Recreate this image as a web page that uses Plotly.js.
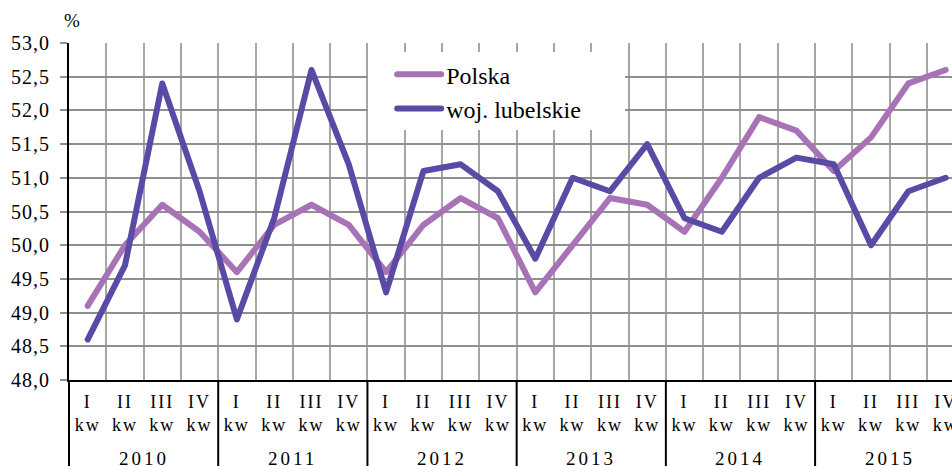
<!DOCTYPE html>
<html>
<head>
<meta charset="utf-8">
<script src="https://cdn.plot.ly/plotly-3.0.1.min.js"></script>
<style>
  html, body { margin: 0; padding: 0; overflow: hidden; background: #fff; }
  #chart { width: 952px; height: 466px; }
  .xtick text { letter-spacing: 2px; }
  .annotation-text { letter-spacing: 3px; }
  .ytick text { letter-spacing: 1px; }
  .scatterlayer path.js-line, .legend path.js-line { stroke-linecap: round; stroke-linejoin: round; }
</style>
</head>
<body>
<div id="chart"></div>
<script>
const years = ['2010', '2011', '2012', '2013', '2014', '2015'];
const quarters = ['I', 'II', 'III', 'IV'];
const yTicks = [48.0, 48.5, 49.0, 49.5, 50.0, 50.5, 51.0, 51.5, 52.0, 52.5, 53.0];

const polska = [49.1, 50.0, 50.6, 50.2,  49.6, 50.3, 50.6, 50.3,  49.6, 50.3, 50.7, 50.4,
                49.3, 50.0, 50.7, 50.6,  50.2, 51.0, 51.9, 51.7,  51.1, 51.6, 52.4, 52.6];
const lubelskie = [48.6, 49.7, 52.4, 50.8,  48.9, 50.4, 52.6, 51.2,  49.3, 51.1, 51.2, 50.8,
                   49.8, 51.0, 50.8, 51.5,  50.4, 50.2, 51.0, 51.3,  51.2, 50.0, 50.8, 51.0];

const cats = [];
const catText = [];
years.forEach(y => quarters.forEach(q => { cats.push(y + ' ' + q); catText.push(q + '<br>kw'); }));

const serif = 'Liberation Serif';

const traces = [
  { x: cats, y: polska, name: 'Polska', type: 'scatter', mode: 'lines',
    line: { color: '#A873B6', width: 6 } },
  { x: cats, y: lubelskie, name: 'woj. lubelskie', type: 'scatter', mode: 'lines',
    line: { color: '#5A4AA6', width: 6 } }
];

const shapes = [];
const annotations = [];
// white legend box covering the grid (no data passes through this area)
shapes.push({ type: 'rect', xref: 'paper', yref: 'paper', x0: 0.3386, x1: 0.6297, y0: 0.742, y1: 0.973,
  layer: 'above', fillcolor: '#fff', line: { width: 0 } });
// left edge extension below the axis
shapes.push({ type: 'line', xref: 'paper', yref: 'paper', x0: 0, x1: 0, y0: 0, y1: -0.3,
  line: { color: '#000', width: 2 } });
years.forEach((y, i) => {
  if (i > 0) {
    const b = i * quarters.length - 0.5;
    shapes.push({ type: 'line', xref: 'x', yref: 'paper', x0: b, x1: b, y0: 0, y1: -0.3,
      line: { color: '#000', width: 2 } });
  }
  annotations.push({ text: y, xref: 'x', yref: 'paper',
    x: i * quarters.length + (quarters.length - 1) / 2, y: 0,
    yanchor: 'middle', xanchor: 'center', yshift: -78, showarrow: false,
    font: { family: serif, size: 19, color: '#000' } });
});
annotations.push({ text: '%', xref: 'paper', yref: 'paper', x: 0.005, y: 1, xanchor: 'center',
  yanchor: 'middle', yshift: 23, showarrow: false, font: { family: serif, size: 19, color: '#000' } });

const layout = {
  width: 952, height: 466,
  margin: { l: 69, r: 0, t: 43, b: 86, pad: 0 },
  paper_bgcolor: '#fff', plot_bgcolor: '#fff',
  separators: ', ',
  showlegend: true,
  legend: { x: 0.366, y: 0.973, xanchor: 'left', yanchor: 'top', bgcolor: 'rgba(0,0,0,0)',
    borderwidth: 0, itemwidth: 44, font: { family: serif, size: 24, color: '#000' } },
  xaxis: {
    type: 'category', range: [-0.5, 23.17], tickson: 'boundaries',
    tickmode: 'array', tickvals: cats, ticktext: catText,
    showgrid: true, gridcolor: '#a6a6a6', gridwidth: 2,
    showline: true, linecolor: '#000', linewidth: 2, ticks: '', ticklabelstandoff: 4,
    tickfont: { family: serif, size: 18, color: '#000' }, zeroline: false
  },
  yaxis: {
    range: [48, 53], tickmode: 'array', tickvals: yTicks, tickformat: '.1f',
    showgrid: true, gridcolor: '#8f8f8f', gridwidth: 2,
    showline: true, linecolor: '#000', linewidth: 2,
    ticks: 'outside', ticklen: 7, tickwidth: 2, tickcolor: '#8f8f8f', ticklabelstandoff: 6,
    tickfont: { family: serif, size: 20, color: '#000' }, zeroline: false
  },
  shapes: shapes,
  annotations: annotations
};

Plotly.newPlot('chart', traces, layout, { staticPlot: true, displayModeBar: false });
</script>
</body>
</html>
